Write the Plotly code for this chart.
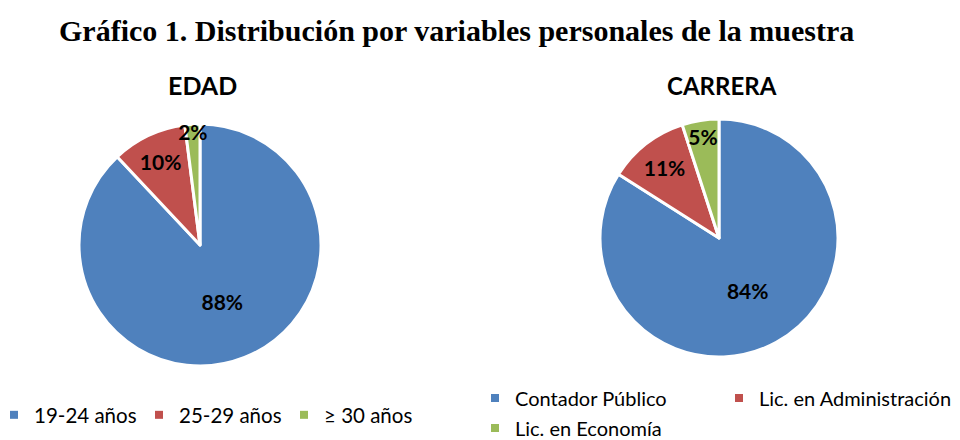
import plotly.graph_objects as go

edad_labels = ["19-24 años", "25-29 años", "≥ 30 años"]
edad_values = [88, 10, 2]
carrera_labels = ["Contador Público", "Lic. en Administración", "Lic. en Economía"]
carrera_values = [84, 11, 5]
colors = ["#4F81BD", "#C0504D", "#9BBB59"]

W, H = 960, 440
O = 8  # page body margin offset


def px(v):
    return (v - O) / W


def py(v):
    return 1 - (v - O) / H


fig = go.Figure()
common = dict(
    sort=False, direction="clockwise", rotation=0, showlegend=False,
    marker=dict(colors=colors, line=dict(color="white", width=3)),
    texttemplate="%{percent:.0%}", textposition="inside",
    insidetextorientation="horizontal",
    textfont=dict(family="Lato", size=21, color="black", weight="bold"),
    hoverinfo="label+percent",
)
fig.add_trace(go.Pie(labels=edad_labels, values=edad_values,
                     domain=dict(x=[px(79), px(321)], y=[py(366), py(124)]), **common))
fig.add_trace(go.Pie(labels=carrera_labels, values=carrera_values,
                     domain=dict(x=[px(600), px(838)], y=[py(357), py(119)]), **common))

# legend entries (one dummy square marker per category)
for lab, col in zip(edad_labels, colors):
    fig.add_trace(go.Scatter(x=[None], y=[None], mode="markers", name=lab,
                             marker=dict(symbol="square", size=8, color=col),
                             legend="legend", showlegend=True))
carrera_legends = ["legend2", "legend4", "legend3"]
for lab, col, lg in zip(carrera_labels, colors, carrera_legends):
    fig.add_trace(go.Scatter(x=[None], y=[None], mode="markers", name=lab,
                             marker=dict(symbol="square", size=8, color=col),
                             legend=lg, showlegend=True))

legfont = dict(family="Lato", size=20.5, color="black")
legfont2 = dict(family="Lato", size=20, color="black")
leg_common = dict(orientation="h", yanchor="middle", xanchor="left",
                  itemwidth=30, bgcolor="rgba(0,0,0,0)")
fig.update_layout(
    width=W, height=H,
    margin=dict(l=0, r=0, t=0, b=0, autoexpand=False),
    paper_bgcolor="white", plot_bgcolor="white",
    xaxis=dict(visible=False), yaxis=dict(visible=False),
    uniformtext=dict(minsize=21, mode="show"),
    legend=dict(x=px(-6), y=py(415), font=legfont, entrywidth=100, **leg_common),
    legend2=dict(x=px(475), y=py(398), font=legfont2, **leg_common),
    legend4=dict(x=px(719), y=py(398), font=legfont2, **leg_common),
    legend3=dict(x=px(475), y=py(428), font=legfont2, **leg_common),
    annotations=[
        dict(text="<b>Gráfico 1. Distribución por variables personales de la muestra</b>",
             x=px(456), y=py(30), xref="paper", yref="paper", showarrow=False,
             xanchor="center", yanchor="middle",
             font=dict(family="Liberation Serif", size=30, color="black")),
        dict(text="<b>EDAD</b>", x=px(202), y=py(85), xref="paper", yref="paper",
             showarrow=False, xanchor="center", yanchor="middle",
             font=dict(family="Lato", size=25, color="black")),
        dict(text="<b>CARRERA</b>", x=px(722), y=py(85), xref="paper", yref="paper",
             showarrow=False, xanchor="center", yanchor="middle",
             font=dict(family="Lato", size=24, color="black")),
    ],
)
fig.write_html("out.html")
